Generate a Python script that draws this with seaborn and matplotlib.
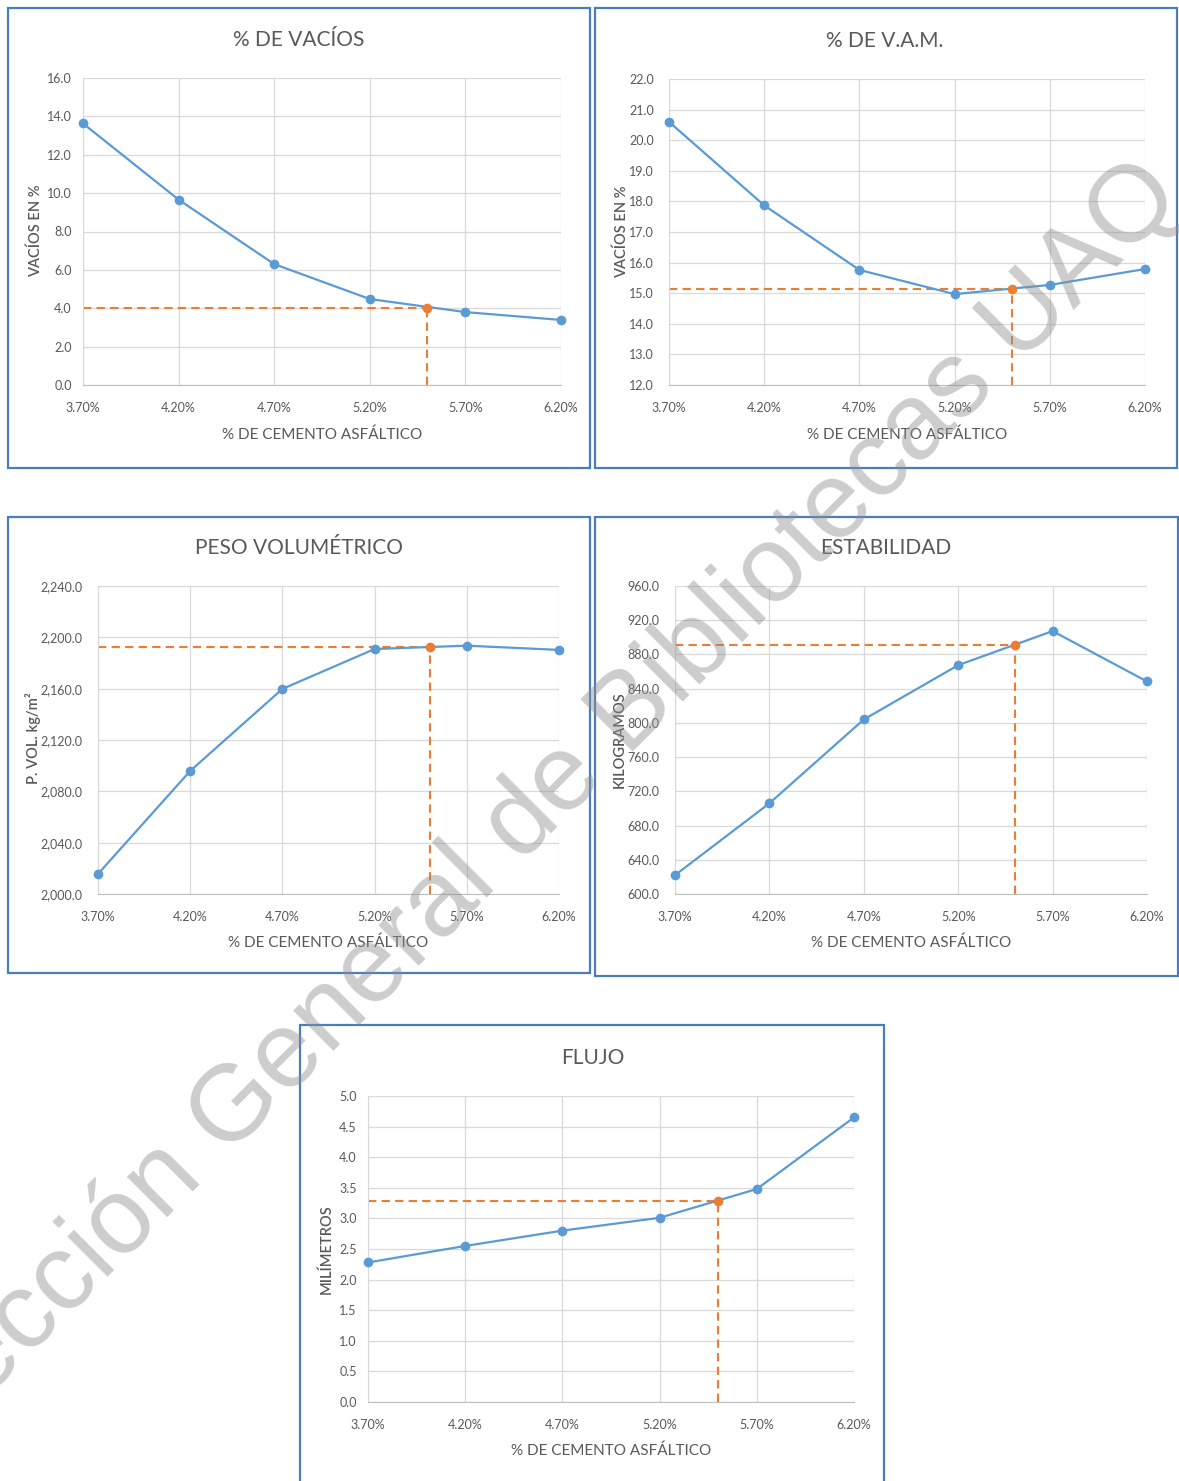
import numpy as np
import pandas as pd
import seaborn as sns
import matplotlib.pyplot as plt
from matplotlib.patches import Rectangle
from matplotlib.ticker import MultipleLocator, FixedLocator, StrMethodFormatter

# --- data ---
asphalt = [3.7, 4.2, 4.7, 5.2, 5.7, 6.2]
x_labels = ["3.70%", "4.20%", "4.70%", "5.20%", "5.70%", "6.20%"]
optimum = 5.5

vacios = [13.63, 9.66, 6.30, 4.48, 3.80, 3.39]
vam = [20.60, 17.87, 15.76, 14.97, 15.27, 15.79]
peso = [2015.6, 2095.9, 2159.8, 2190.9, 2193.5, 2190.2]
estabilidad = [622.0, 706.0, 804.0, 867.5, 907.3, 848.4]
flujo = [2.28, 2.55, 2.80, 3.01, 3.48, 4.65]

opt_values = [4.0, 15.15, 2192.2, 891.2, 3.29]

titles = ["% DE VACÍOS", "% DE V.A.M.", "PESO VOLUMÉTRICO", "ESTABILIDAD", "FLUJO"]
ylabels = ["VACÍOS EN %", "VACÍOS EN %", "P. VOL. kg/m²", "KILOGRAMOS", "MILÍMETROS"]
xlabel = "% DE CEMENTO ASFÁLTICO"

sns.set_style("white")
plt.rcParams['font.family'] = ['Lato', 'DejaVu Sans']

W, H = 1179, 1481
BLUE = "#5b9bd5"
ORANGE = "#ed7d31"
TXT = "#595959"
GRID = "#d9d9d9"
FRAME = "#4a7ebb"

fig = plt.figure(figsize=(W / 100, H / 100), dpi=100)
fig.patch.set_facecolor("white")


def px_box(x0, y0, x1, y1):
    return [x0 / W, 1 - y1 / H, (x1 - x0) / W, (y1 - y0) / H]


def fig_xy(x, y):
    return x / W, 1 - y / H


# frame, plot area, title pos, xlabel pos, ylabel pos, y range, y step, y minor step, y format
panels = [
    dict(frame=(8, 8, 590, 468), area=(83, 78, 561, 385), title=(299, 40), xl=(322, 435), yl=(36, 231),
         ylim=(0, 16), step=2, minor=None, fmt="{x:.1f}", y=vacios),
    dict(frame=(595, 8, 1177, 468), area=(669, 79, 1145, 385), title=(885, 41), xl=(907, 435), yl=(622, 232),
         ylim=(12, 22), step=1, minor=0.1, fmt="{x:.1f}", y=vam),
    dict(frame=(8, 517, 590, 973), area=(98, 586, 559, 894), title=(299, 548), xl=(328, 943), yl=(33, 738),
         ylim=(2000, 2240), step=40, minor=10, fmt="{x:,.1f}", y=peso),
    dict(frame=(595, 517, 1178, 976), area=(675, 586, 1147, 894), title=(886, 548), xl=(911, 943), yl=(620, 740),
         ylim=(600, 960), step=40, minor=10, fmt="{x:.1f}", y=estabilidad),
    dict(frame=(300, 1025, 884, 1490), area=(368, 1096, 854, 1402), title=(593, 1058), xl=(611, 1451), yl=(327, 1249),
         ylim=(0, 5), step=0.5, minor=None, fmt="{x:.1f}", y=flujo),
]

for i, p in enumerate(panels):
    fx0, fy0, fx1, fy1 = p["frame"]
    fig.patches.append(Rectangle(fig_xy(fx0, fy1), (fx1 - fx0) / W, (fy1 - fy0) / H,
                                 transform=fig.transFigure, fill=False, edgecolor=FRAME, linewidth=1.6))

    ax = fig.add_axes(px_box(*p["area"]))
    df = pd.DataFrame({"asfalto": asphalt, "valor": p["y"]})
    sns.lineplot(data=df, x="asfalto", y="valor", ax=ax, color=BLUE, linewidth=1.6,
                 marker="o", markersize=7, markeredgewidth=0, zorder=3)
    for ln in ax.lines:
        ln.set_clip_on(False)

    ymin, ymax = p["ylim"]
    yo = opt_values[i]
    ax.plot([asphalt[0], optimum], [yo, yo], color=ORANGE, linewidth=1.5, dashes=(4, 2.5), zorder=2, clip_on=False)
    ax.plot([optimum, optimum], [ymin, yo], color=ORANGE, linewidth=1.5, dashes=(4, 2.5), zorder=2, clip_on=False)
    ax.plot([optimum], [yo], marker="o", markersize=7, markeredgewidth=0, color=ORANGE, zorder=4, clip_on=False)

    ax.set_xlim(asphalt[0], asphalt[-1])
    ax.set_ylim(ymin, ymax)
    ax.xaxis.set_major_locator(FixedLocator(asphalt))
    ax.set_xticklabels(x_labels)
    ax.xaxis.set_minor_locator(MultipleLocator(0.1))
    ax.yaxis.set_major_locator(MultipleLocator(p["step"]))
    ax.yaxis.set_major_formatter(StrMethodFormatter(p["fmt"]))
    if p["minor"]:
        ax.yaxis.set_minor_locator(MultipleLocator(p["minor"]))
        ax.tick_params(axis="y", which="both", direction="inout", length=6, width=0.8, color="#bfbfbf")
        ax.tick_params(axis="y", which="minor", length=5)
    else:
        ax.tick_params(axis="y", which="both", length=0)
    ax.tick_params(axis="y", which="major", labelsize=9, labelcolor=TXT, pad=8)
    ax.tick_params(axis="x", which="both", direction="out", length=4, width=0.8, color="#bfbfbf")
    ax.tick_params(axis="x", which="major", labelsize=9, labelcolor=TXT, pad=8)

    ax.grid(True, which="major", color=GRID, linewidth=0.9)
    for side in ["top", "right"]:
        ax.spines[side].set_visible(False)
    ax.spines["left"].set_color(GRID)
    ax.spines["bottom"].set_color("#bfbfbf")
    ax.set_axisbelow(True)

    ax.set_xlabel(xlabel, fontsize=11, color=TXT, va="center")
    ax.xaxis.set_label_coords(*fig_xy(*p["xl"]), transform=fig.transFigure)
    ax.set_ylabel(ylabels[i], fontsize=10.5, color=TXT, va="center", fontweight="semibold")
    ax.yaxis.set_label_coords(*fig_xy(*p["yl"]), transform=fig.transFigure)

    tx, ty = fig_xy(*p["title"])
    fig.text(tx, ty, titles[i], fontsize=15, color=TXT, ha="center", va="center")

# watermark
fig.text(0.437, 0.44, "Dirección General de Bibliotecas UAQ", rotation=45, rotation_mode="anchor",
         fontsize=78, color="#8f8f8f", alpha=0.45, ha="center", va="center",
         family=["Liberation Sans", "DejaVu Sans"], zorder=10)

fig.savefig("out.png", dpi=100, facecolor="white")
